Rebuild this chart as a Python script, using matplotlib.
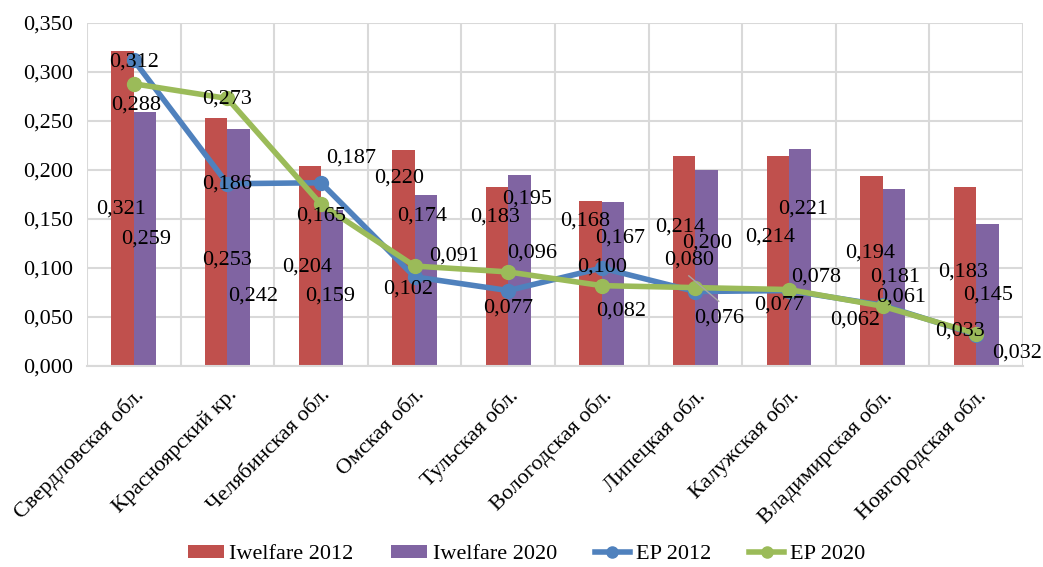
import matplotlib
matplotlib.use("Agg")
import matplotlib.pyplot as plt
from matplotlib.ticker import FuncFormatter, MultipleLocator
import numpy as np

regions = ["Свердловская обл.", "Красноярский кр.", "Челябинская обл.",
           "Омская обл.", "Тульская обл.", "Вологодская обл.",
           "Липецкая обл.", "Калужская обл.", "Владимирская обл.",
           "Новгородская обл."]
iwelfare_2012 = [0.321, 0.253, 0.204, 0.220, 0.183, 0.168, 0.214, 0.214, 0.194, 0.183]
iwelfare_2020 = [0.259, 0.242, 0.159, 0.174, 0.195, 0.167, 0.200, 0.221, 0.181, 0.145]
ep_2012 = [0.312, 0.186, 0.187, 0.091, 0.077, 0.100, 0.076, 0.077, 0.062, 0.032]
ep_2020 = [0.288, 0.273, 0.165, 0.102, 0.096, 0.082, 0.080, 0.078, 0.061, 0.033]

# label placement (dx in category units from group centre, dy from the value)
off_iw12 = [(-0.14, -0.161), (0.0, -0.145), (-0.15, -0.103), (-0.17, -0.028), (-0.14, -0.031),
            (-0.18, -0.020), (-0.16, -0.072), (-0.20, -0.082), (-0.13, -0.079), (-0.14, -0.087)]
off_iw20 = [(0.13, -0.129), (0.27, -0.171), (0.10, -0.088), (0.08, -0.021), (0.20, -0.025),
            (0.20, -0.036), (0.13, -0.075), (0.15, -0.061), (0.13, -0.090), (0.13, -0.073)]
off_ep12 = [(0.0, -0.002), (0.0, 0.0), (0.32, 0.025), (0.42, 0.021), (0.0, -0.018),
            (0.0, 0.001), (0.25, -0.027), (-0.10, -0.015), (-0.29, -0.015), (0.44, -0.019)]
off_ep20 = [(0.02, -0.022), (0.0, -0.001), (0.0, -0.012), (-0.07, -0.023), (0.26, 0.019),
            (0.21, -0.026), (-0.07, 0.028), (0.29, 0.013), (0.20, 0.009), (-0.17, 0.003)]

plt.rcParams["font.family"] = ["Liberation Serif", "DejaVu Serif"]
FS = 16

c_red, c_purple = "#C0504D", "#8064A2"
c_blue, c_green = "#4F81BD", "#9BBB59"

fig = plt.figure(figsize=(10.43, 5.67), dpi=100)
ax = fig.add_axes([0.0834, 0.3545, 0.8974, 0.6049])

x = np.arange(len(regions))
w = 0.24
b1 = ax.bar(x - w / 2, iwelfare_2012, w, color=c_red, label="Iwelfare 2012", zorder=2)
b2 = ax.bar(x + w / 2, iwelfare_2020, w, color=c_purple, label="Iwelfare 2020", zorder=2)
l1, = ax.plot(x, ep_2012, color=c_blue, lw=4, marker="o", ms=10, label="EP 2012", zorder=3)
l2, = ax.plot(x, ep_2020, color=c_green, lw=4, marker="o", ms=10, label="EP 2020", zorder=4)

def fmt(v):
    return f"{v:.3f}".replace(".", ",")

for vals, offs in [(iwelfare_2012, off_iw12), (iwelfare_2020, off_iw20),
                   (ep_2012, off_ep12), (ep_2020, off_ep20)]:
    for i, (v, (dx, dy)) in enumerate(zip(vals, offs)):
        ax.text(i + dx, v + dy, fmt(v), fontsize=FS, ha="center", va="center",
                zorder=6, clip_on=False)

# leader line for the Lipetsk EP 2012 label
ax.plot([6 - 0.07, 6 + 0.25], [ep_2012[6] + 0.016, ep_2012[6] - 0.010],
        color="#a6a6a6", lw=1, zorder=5)

ax.set_xlim(-0.5, len(regions) - 0.5)
ax.set_ylim(0, 0.35)
ax.yaxis.set_major_locator(MultipleLocator(0.05))
ax.yaxis.set_major_formatter(FuncFormatter(lambda v, p: fmt(v)))
ax.set_xticks(x)
ax.set_xticklabels(regions, rotation=45, ha="right", rotation_mode="anchor", fontsize=FS)
ax.set_xticks(np.arange(len(regions) + 1) - 0.5, minor=True)
ax.tick_params(axis="x", which="both", length=0, pad=14)
ax.tick_params(axis="y", length=0, labelsize=FS, pad=10)
ax.grid(True, axis="y", color="#d9d9d9", lw=1.5, zorder=0)
ax.grid(True, axis="x", which="minor", color="#d9d9d9", lw=1.5, zorder=0)
for s in ["top", "right", "left"]:
    ax.spines[s].set_visible(False)
ax.spines["bottom"].set_color("#d9d9d9")
ax.spines["bottom"].set_linewidth(1.5)

fig.legend(handles=[b1, b2, l1, l2], loc="center", bbox_to_anchor=(0.505, 0.022),
           ncol=4, frameon=False, fontsize=FS, handlelength=1.6, handleheight=0.55,
           columnspacing=1.7, handletextpad=0.25, markerscale=0.8)

plt.savefig("out.png", dpi=100)
plt.close()
